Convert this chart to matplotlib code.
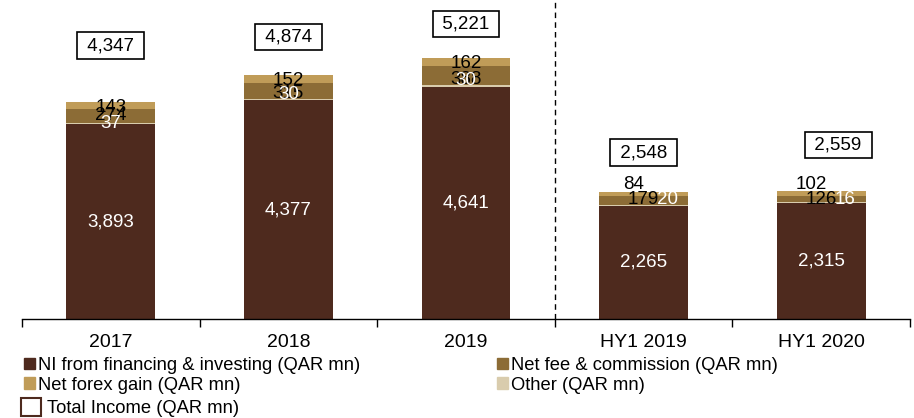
import matplotlib
matplotlib.use("Agg")
import matplotlib.pyplot as plt
from matplotlib.patches import Patch
import numpy as np

plt.rcParams['font.family'] = ['Liberation Sans', 'DejaVu Sans']

# data (QAR mn)
periods = ["2017", "2018", "2019", "HY1 2019", "HY1 2020"]
ni_fin = [3893, 4377, 4641, 2265, 2315]
forex = [37, 30, 30, 20, 16]
fee = [274, 315, 388, 179, 126]
other = [143, 152, 162, 84, 102]
total = [4347, 4874, 5221, 2548, 2559]

c_ni = "#4e2a1e"
c_fee = "#8c6c36"
c_tan = "#c09c58"
c_pale = "#d9ccad"

# label nudges in pixels (dx, dy), Excel pushes the small ones around
off_forex = [(0, 0), (0, 5), (0, 6), (24, 6), (24, 3)]
off_fee = [(0, 0), (0, -3), (0, -4), (0, 1), (0, 0)]
off_other = [(0, -2), (0, -1), (0, -2), (-10, 9), (-10, 9)]
off_box = [(0, 56), (0, 38), (0, 34), (0, 39), (17, 46)]

fig = plt.figure(figsize=(9.14, 4.18), dpi=100)
ax = fig.add_axes([22 / 914, 1 - 319 / 418, 888 / 914, 319 / 418])

x = np.arange(len(periods))
w = 0.5
b1 = np.array(ni_fin)
b2 = b1 + np.array(forex)
b3 = b2 + np.array(fee)

# in the source the thin forex slice shows pale and the "other" slice tan
ax.bar(x, ni_fin, w, color=c_ni)
ax.bar(x, forex, w, bottom=b1, color=c_pale)
ax.bar(x, fee, w, bottom=b2, color=c_fee)
ax.bar(x, other, w, bottom=b3, color=c_tan)

fs = 13.5
for i in range(len(periods)):
    ax.text(x[i], ni_fin[i] / 2, f"{ni_fin[i]:,}", ha="center", va="center",
            color="white", fontsize=fs)
    ax.annotate(f"{fee[i]:,}", (x[i], b2[i] + fee[i] / 2), xytext=off_fee[i],
                textcoords="offset pixels", ha="center", va="center",
                color="black", fontsize=fs)
    ax.annotate(f"{forex[i]:,}", (x[i], b1[i] + forex[i] / 2), xytext=off_forex[i],
                textcoords="offset pixels", ha="center", va="center",
                color="white", fontsize=fs)
    ax.annotate(f"{other[i]:,}", (x[i], b3[i] + other[i] / 2), xytext=off_other[i],
                textcoords="offset pixels", ha="center", va="center",
                color="black", fontsize=fs)
    ax.annotate(f" {total[i]:,} ", (x[i], total[i]), xytext=off_box[i],
                textcoords="offset pixels", ha="center", va="center",
                color="black", fontsize=fs,
                bbox=dict(boxstyle="square,pad=0.25", fc="white", ec="black", lw=1.2))

ax.axvline(2.5, color="black", ls=(0, (4, 3)), lw=1)

ax.set_xlim(-0.5, 4.5)
ax.set_ylim(0, 6380)
for s in ["top", "right", "left"]:
    ax.spines[s].set_visible(False)
ax.spines["bottom"].set_linewidth(1)
ax.set_yticks([])
ax.set_xticks(x)
ax.set_xticklabels(periods, fontsize=14)
ax.tick_params(axis="x", which="major", length=0, pad=11)
ax.set_xticks(np.arange(-0.5, 5, 1), minor=True)
ax.tick_params(axis="x", which="minor", length=6, width=1, direction="out")

lfs = 13.2
leg_kw = dict(frameon=False, fontsize=lfs, handlelength=0.6, handleheight=0.6,
              handletextpad=0.15, labelspacing=0.15, borderpad=0, borderaxespad=0,
              loc="upper left")
fig.legend(handles=[Patch(color=c_ni), Patch(color=c_tan)],
           labels=["NI from financing & investing (QAR mn)", "Net forex gain (QAR mn)"],
           bbox_to_anchor=(24 / 914, 1 - 357 / 418), **leg_kw)
fig.legend(handles=[Patch(color=c_fee), Patch(color=c_pale)],
           labels=["Net fee & commission (QAR mn)", "Other (QAR mn)"],
           bbox_to_anchor=(497 / 914, 1 - 357 / 418), **leg_kw)
fig.legend(handles=[Patch(fc="white", ec=c_ni, lw=1.5)],
           labels=["Total Income (QAR mn)"],
           bbox_to_anchor=(21 / 914, 1 - 398 / 418), frameon=False, fontsize=lfs,
           handlelength=1.1, handleheight=1.1, handletextpad=0.3,
           borderpad=0, borderaxespad=0, loc="upper left")

fig.savefig("out.png", dpi=100)
